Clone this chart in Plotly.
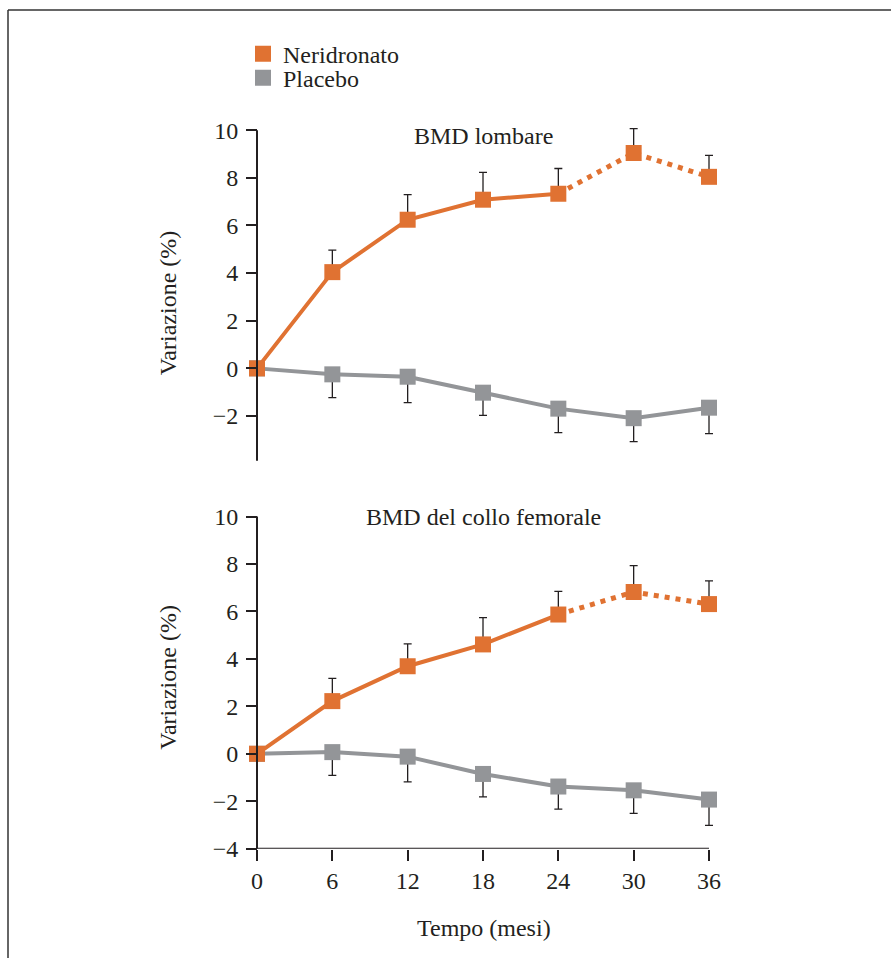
import plotly.graph_objects as go

# ---- data ----
months = [0, 6, 12, 18, 24, 30, 36]
tick_labels = ["0", "6", "12", "18", "24", "30", "36"]

lomb_neri = [0, 4.04, 6.24, 7.08, 7.33, 9.04, 8.04]
lomb_neri_err = [0, 0.92, 1.05, 1.15, 1.06, 1.02, 0.90]
lomb_plac = [0, -0.25, -0.35, -1.02, -1.69, -2.09, -1.65]
lomb_plac_err = [0, 0.98, 1.09, 0.95, 1.01, 0.98, 1.09]

fem_neri = [0, 2.22, 3.69, 4.61, 5.87, 6.82, 6.31]
fem_neri_err = [0, 0.96, 0.94, 1.13, 0.98, 1.11, 0.98]
fem_plac = [0, 0.07, -0.12, -0.85, -1.38, -1.54, -1.93]
fem_plac_err = [0, 0.98, 1.06, 0.97, 0.95, 0.97, 1.09]

series_names = ["Neridronato", "Placebo"]
panel_titles = ["BMD lombare", "BMD del collo femorale"]
y_title = "Variazione (%)"
x_title = "Tempo (mesi)"

ORANGE = "#E07232"
GRAY = "#939598"
INK = "#231F20"
FONT = "Liberation Serif, Times New Roman, serif"
FS = 24

W, H = 891, 958
FIG_H = 973
def px(xp): return xp / W
def py(yp): return 1 - yp / H

fig = go.Figure()

def add_panel(xa, ya, neri, neri_err, plac, plac_err):
    fig.add_trace(go.Scatter(
        x=months, y=plac, mode="lines+markers", xaxis=xa, yaxis=ya,
        line=dict(color=GRAY, width=4),
        marker=dict(symbol="square", size=16, color=GRAY),
        error_y=dict(type="data", symmetric=False, array=[0]*7, arrayminus=plac_err,
                     color=INK, thickness=1.3, width=4),
        showlegend=False, cliponaxis=False))
    fig.add_trace(go.Scatter(
        x=months[:5], y=neri[:5], mode="lines", xaxis=xa, yaxis=ya,
        line=dict(color=ORANGE, width=4), showlegend=False, hoverinfo="skip"))
    fig.add_trace(go.Scatter(
        x=months[4:], y=neri[4:], mode="lines", xaxis=xa, yaxis=ya,
        line=dict(color=ORANGE, width=5, dash="5px,6px"), showlegend=False, hoverinfo="skip"))
    fig.add_trace(go.Scatter(
        x=months, y=neri, mode="markers", xaxis=xa, yaxis=ya,
        marker=dict(symbol="square", size=16, color=ORANGE),
        error_y=dict(type="data", symmetric=False, array=neri_err, arrayminus=[0]*7,
                     color=INK, thickness=1.3, width=4),
        showlegend=False, cliponaxis=False))

add_panel("x", "y", lomb_neri, lomb_neri_err, lomb_plac, lomb_plac_err)
add_panel("x2", "y2", fem_neri, fem_neri_err, fem_plac, fem_plac_err)

for name, col, lg in zip(series_names, [ORANGE, GRAY], ["legend", "legend2"]):
    fig.add_trace(go.Scatter(x=[None], y=[None], mode="markers", name=name,
                             marker=dict(symbol="square", size=17, color=col),
                             showlegend=True, legend=lg))

ppu_x = 452 / 36.0
xr = [-1.2, 37.2]
xdom = [px(257 + xr[0] * ppu_x), px(709 + (xr[1] - 36) * ppu_x)]
top_ppu = 23.8
top_range = [-3.9, 10.6]
top_dom = [py(367 - top_range[0] * top_ppu), py(367 - top_range[1] * top_ppu)]
bot_ppu = 23.7
bot_range = [-4.0, 10.5]
bot_dom = [py(752 - bot_range[0] * bot_ppu), py(752 - bot_range[1] * bot_ppu)]

tickfont = dict(family=FONT, size=FS, color=INK)
common_y = dict(showgrid=False, zeroline=False, showline=False, ticks="outside",
                ticklen=11, tickwidth=1.5, tickcolor=INK, tickfont=tickfont,
                ticklabelstandoff=3,
                tickvals=[-4, -2, 0, 2, 4, 6, 8, 10], anchor="free", position=px(257))

legfont = dict(family=FONT, size=FS, color=INK)
fig.update_layout(
    width=W, height=FIG_H, autosize=False, margin=dict(l=0, r=0, t=0, b=0),
    paper_bgcolor="white", plot_bgcolor="white",
    font=dict(family=FONT, color=INK, size=FS),
    xaxis=dict(domain=xdom, range=xr, showgrid=False, zeroline=False, showline=False,
               showticklabels=False, ticks="", anchor="y"),
    yaxis=dict(domain=top_dom, range=top_range, **common_y),
    xaxis2=dict(domain=xdom, range=xr, showgrid=False, zeroline=False, showline=False,
                tickvals=months, ticktext=tick_labels, ticks="outside", ticklen=11,
                tickwidth=1.5, tickcolor=INK, tickfont=tickfont, anchor="y2"),
    yaxis2=dict(domain=bot_dom, range=bot_range, **common_y),
    legend=dict(x=px(243), y=py(53), xanchor="left", yanchor="middle",
                font=legfont, bgcolor="rgba(0,0,0,0)"),
    legend2=dict(x=px(243), y=py(77), xanchor="left", yanchor="middle",
                 font=legfont, bgcolor="rgba(0,0,0,0)"),
    showlegend=True,
)

shapes = [
    dict(type="line", xref="x", yref="y", x0=0, x1=0, y0=-3.88, y1=10,
         line=dict(color=INK, width=2)),
    dict(type="line", xref="x2", yref="y2", x0=0, x1=0, y0=-4, y1=10,
         line=dict(color=INK, width=2)),
    dict(type="line", xref="x2", yref="y2", x0=0, x1=36, y0=-4, y1=-4,
         line=dict(color=INK, width=2)),
    dict(type="line", xref="paper", yref="paper", x0=px(8), x1=1, y0=py(9), y1=py(9),
         line=dict(color="#333333", width=1.5)),
    dict(type="line", xref="paper", yref="paper", x0=px(8), x1=px(8), y0=0, y1=py(9),
         line=dict(color="#333333", width=1.5)),
]
fig.update_layout(shapes=shapes)

def ann(text, x, y, xref="paper", yref="paper", angle=0):
    return dict(text=text, x=x, y=y, xref=xref, yref=yref, showarrow=False,
                textangle=angle, xanchor="center", yanchor="middle",
                font=dict(family=FONT, size=FS, color=INK))

annotations = [
    ann(panel_titles[0], 18, 9.75, "x", "y"),
    ann(panel_titles[1], 18, 10.0, "x2", "y2"),
    ann(y_title, px(168), py(302), angle=-90),
    ann(y_title, px(168), py(676), angle=-90),
    ann(x_title, px(484), py(926)),
]
fig.update_layout(annotations=annotations)

fig.write_html("out.html", config={"responsive": False})
